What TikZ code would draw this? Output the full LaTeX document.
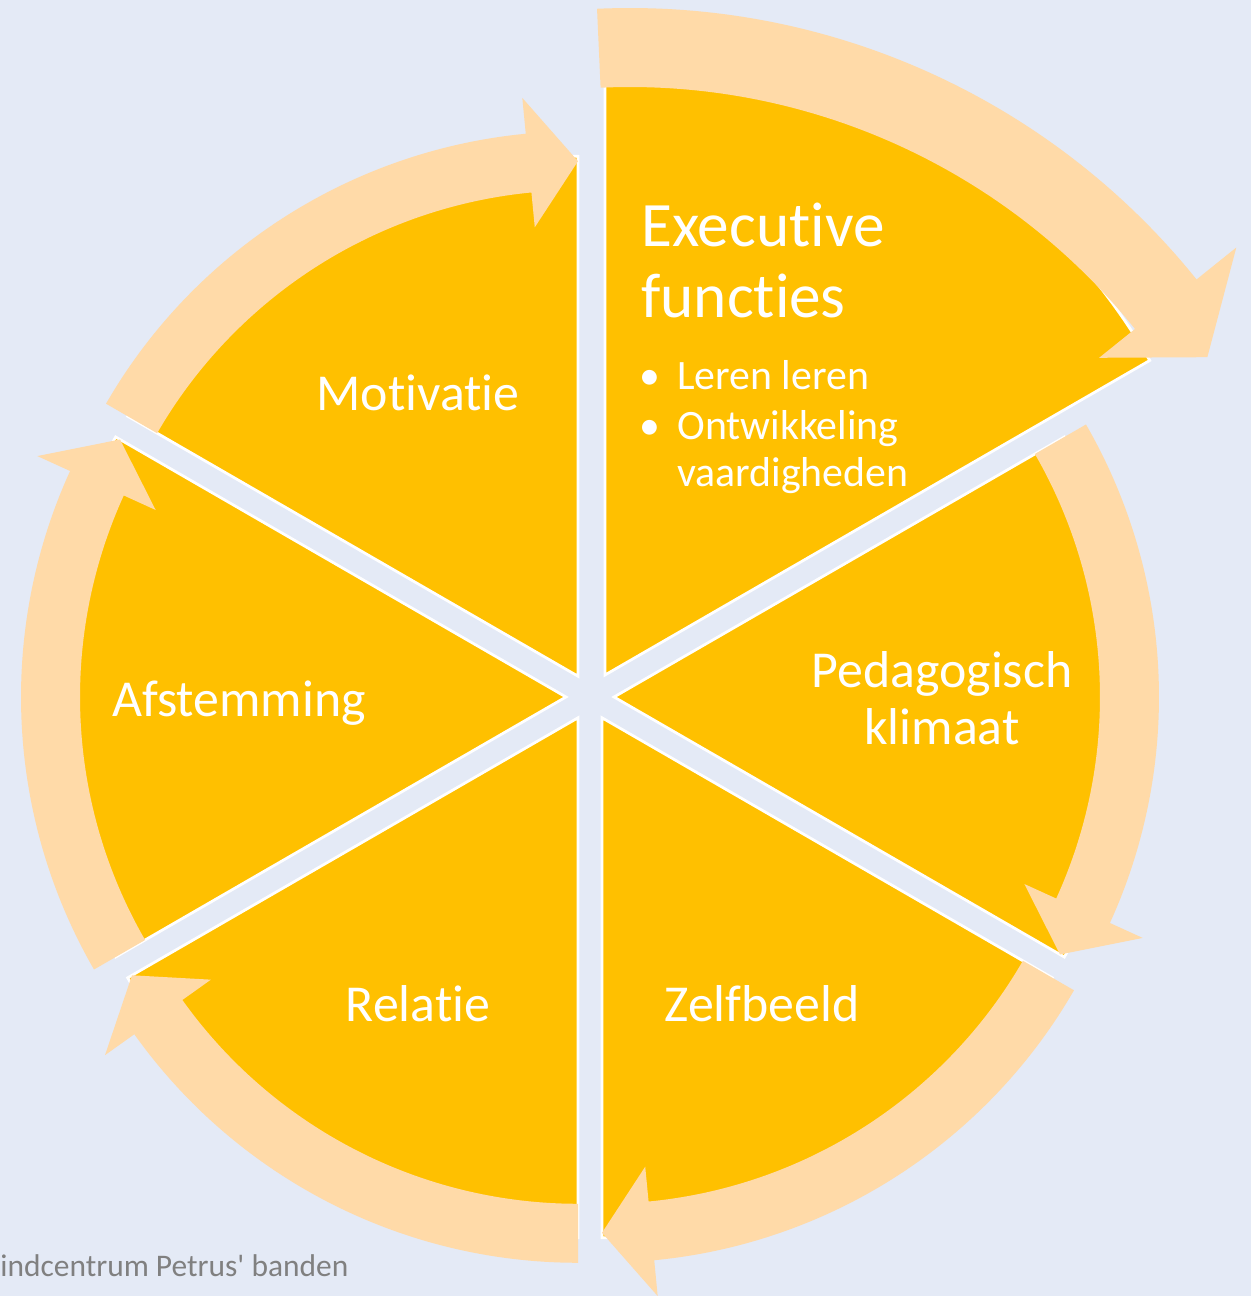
\documentclass[tikz,border=0pt]{standalone}
\usepackage{fontspec}
\setmainfont{Carlito}
\newfontfamily\plainfont{Carlito}[Ligatures=NoCommon]
\definecolor{bg}{HTML}{E4EAF6}
\definecolor{seg}{HTML}{FFC000}
\definecolor{band}{HTML}{FFDAA8}
\definecolor{foot}{HTML}{808080}
\tikzset{
  wedgebox/.style={fill=seg, draw=white, line width=0.055cm, line join=miter},
  bandarrow/.style={fill=band},
  lbl/.style={text=white, inner sep=0pt, anchor=base, font=\plainfont\fontsize{29.5}{33}\selectfont},
  bigtitle/.style={text=white, inner sep=0pt, anchor=base west, font=\plainfont\fontsize{36}{40}\selectfont},
  bullettext/.style={text=white, inner sep=0pt, anchor=base west, font=\plainfont\fontsize{23.8}{27}\selectfont},
}
\begin{document}
\begin{tikzpicture}[x=0.02cm,y=0.02cm]
\useasboundingbox (0,0) rectangle (1251,1296);
\fill[bg] (0,0) rectangle (1251,1296);
\coordinate (C) at (590,599);
% ordinary wedges
\foreach \b in {0,-60,-120,180,120}{
  \begin{scope}[shift={(C)},shift={(\b:24)}]
    \filldraw[wedgebox] (0,0) -- (\b-30:520) arc[start angle=\b-30, end angle=\b+30, radius=520] -- cycle;
  \end{scope}
}
% emphasized wedge
\begin{scope}[shift={(605,621)}]
  \filldraw[wedgebox] (0,0) -- (30:629) arc[start angle=30, end angle=90, radius=629] -- cycle;
\end{scope}
% ordinary circular arrows
\foreach \b in {0,-60,-120,180,120}{
  \begin{scope}[shift={(C)},shift={(\b:24)}]
    \fill[bandarrow] (\b+30:486) -- (\b+30:545)
      arc[start angle=\b+30, end angle=\b-24.5, radius=545]
      -- (\b-24.5:581) -- (\b-30:515) -- (\b-24.5:451) -- (\b-24.5:486)
      arc[start angle=\b-24.5, end angle=\b+30, radius=486] -- cycle;
  \end{scope}
}
% emphasized arrow
\begin{scope}[shift={(630,561)}]
  \fill[bandarrow] (92.6:648) -- (92.6:727)
    arc[start angle=92.6, end angle=38.8, radius=727]
    -- (38.8:778) -- (33.2:690) -- (38.8:602) -- (38.8:648)
    arc[start angle=38.8, end angle=92.6, radius=648] -- cycle;
\end{scope}
% labels
\node[bigtitle] (ex1) at (641,1049) {Executive};
\node[bigtitle] (ex2) at (641,978) {functies};
\node[bullettext] (b1) at (677,906) {\llap{•\hspace{0.35cm}}Leren leren};
\node[bullettext] (b2) at (677,856) {\llap{•\hspace{0.35cm}}Ontwikkeling};
\node[bullettext] (b3) at (677,809) {vaardigheden};
\node[lbl] (mot) at (418,885) {Motivatie};
\node[lbl] (ped1) at (942,608) {Pedagogisch};
\node[lbl] (ped2) at (942,551) {klimaat};
\node[lbl] (afs) at (239,579) {Afstemming};
\node[lbl] (rel) at (418,274) {Relatie};
\node[lbl] (zel) at (762,274) {Zelfbeeld};
\node[text=foot, inner sep=0pt, anchor=base west, font=\plainfont\fontsize{17.9}{20}\selectfont] (foot) at (0,19) {indcentrum Petrus' banden};
\end{tikzpicture}
\end{document}
